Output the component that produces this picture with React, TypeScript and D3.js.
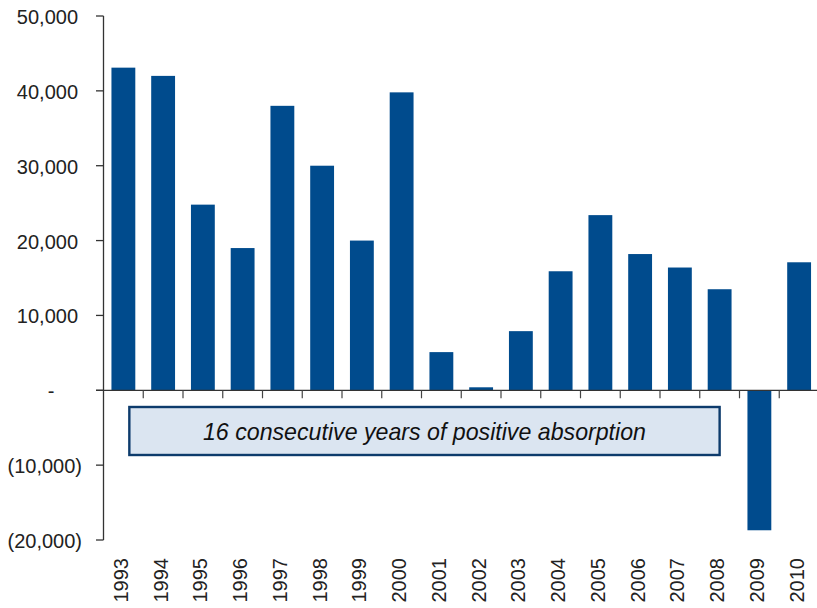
import React from "react";
import * as d3 from "d3";

// Annual net absorption, 1993–2010
const years: string[] = [
  "1993", "1994", "1995", "1996", "1997", "1998", "1999", "2000", "2001",
  "2002", "2003", "2004", "2005", "2006", "2007", "2008", "2009", "2010",
];
const absorption: number[] = [
  43100, 42000, 24800, 19000, 38000, 30000, 20000, 39800, 5100,
  400, 7900, 15900, 23400, 18200, 16400, 13500, -18700, 17100,
];
const yTicks: number[] = [50000, 40000, 30000, 20000, 10000, 0, -10000, -20000];
const noteText = "16 consecutive years of positive absorption";
const noteSpan: [string, string] = ["1993", "2008"];

const W = 817;
const H = 608;
const BAR = "#004b8d";
const FONT = "'Liberation Sans', Arial, sans-serif";

const fmt = (v: number) => {
  if (v === 0) return "-";
  const s = d3.format(",")(Math.abs(v));
  return v < 0 ? `(${s})` : s;
};

export default function App() {
  const x = d3
    .scaleBand<string>()
    .domain(years)
    .range([103.5, 819])
    .paddingInner(0.4)
    .paddingOuter(0.2);
  const y = d3.scaleLinear().domain([-20000, 50000]).range([540, 16]);
  const step = x.step();
  const bw = x.bandwidth();
  const y0 = y(0);
  const left = x.range()[0];

  // category boundaries for the x tick marks
  const bounds = years.map((_, i) => left + step * (i + 1));

  // annotation box spans from inside the first bar to the middle of the last
  const boxX0 = (x(noteSpan[0]) as number) + bw * 0.75;
  const boxX1 = (x(noteSpan[1]) as number) + bw * 0.5;
  const boxY0 = 407;
  const boxY1 = 455;

  return (
    <svg
      width={W}
      height={H}
      style={{ position: "absolute", left: 0, top: 0, display: "block", background: "#fff" }}
    >
      {/* bars */}
      {years.map((yr, i) => {
        const v = absorption[i];
        return (
          <rect
            key={yr}
            x={x(yr)}
            width={bw}
            y={Math.min(y(v), y0)}
            height={Math.abs(y(v) - y0)}
            fill={BAR}
          />
        );
      })}

      {/* y axis */}
      <line x1={left} x2={left} y1={y(50000)} y2={y(-20000)} stroke="#333" strokeWidth={1.3} />
      {yTicks.map((t) => (
        <g key={t}>
          <line x1={96} x2={left} y1={y(t)} y2={y(t)} stroke="#333" strokeWidth={1.3} />
          <text
            x={t === 0 ? 51 : t < 0 ? 82 : 78}
            y={y(t) + 8}
            textAnchor={t === 0 ? "middle" : "end"}
            fontFamily={FONT}
            fontSize={20}
            fill="#222"
          >
            {fmt(t)}
          </text>
        </g>
      ))}

      {/* x axis at zero */}
      <line x1={96} x2={W} y1={y0} y2={y0} stroke="#333" strokeWidth={1.3} />
      {bounds.map((bx, i) => (
        <line key={i} x1={bx} x2={bx} y1={y0} y2={y0 + 8} stroke="#444" strokeWidth={1.2} />
      ))}
      {years.map((yr) => {
        const cx = (x(yr) as number) + bw / 2;
        return (
          <text
            key={yr}
            transform={`translate(${cx + 4.5},558) rotate(-90)`}
            textAnchor="end"
            fontFamily={FONT}
            fontSize={20}
            fill="#222"
          >
            {yr}
          </text>
        );
      })}

      {/* annotation */}
      <rect
        x={boxX0}
        y={boxY0}
        width={boxX1 - boxX0}
        height={boxY1 - boxY0}
        fill="#dbe5f1"
        stroke="#0d3b6c"
        strokeWidth={2.4}
      />
      <text
        x={(boxX0 + boxX1) / 2}
        y={440}
        textAnchor="middle"
        fontFamily={FONT}
        fontStyle="italic"
        fontSize={24}
        textLength={443}
        lengthAdjust="spacingAndGlyphs"
        fill="#111"
      >
        {noteText}
      </text>
    </svg>
  );
}
